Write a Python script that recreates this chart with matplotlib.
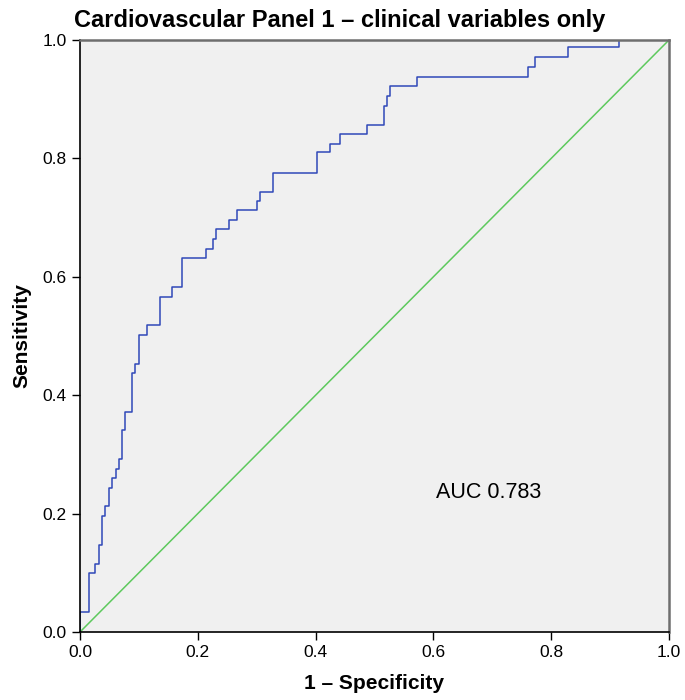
import matplotlib
matplotlib.use("Agg")
import matplotlib.pyplot as plt

# ROC curve corner points (1 - specificity, sensitivity)
fpr = [0.0, 0.0, 0.015, 0.025, 0.033, 0.038, 0.043, 0.050, 0.055, 0.061,
       0.067, 0.072, 0.077, 0.089, 0.094, 0.100, 0.113, 0.135, 0.157, 0.174,
       0.214, 0.225, 0.231, 0.253, 0.266, 0.300, 0.306, 0.328, 0.402, 0.424,
       0.441, 0.488, 0.516, 0.521, 0.526, 0.573, 0.761, 0.772, 0.829, 0.915,
       1.0]
tpr = [0.0, 0.034, 0.099, 0.115, 0.147, 0.196, 0.212, 0.244, 0.260, 0.276,
       0.292, 0.341, 0.372, 0.437, 0.453, 0.502, 0.519, 0.566, 0.583, 0.631,
       0.647, 0.664, 0.680, 0.696, 0.713, 0.728, 0.744, 0.776, 0.810, 0.825,
       0.841, 0.857, 0.889, 0.906, 0.922, 0.938, 0.955, 0.971, 0.988, 1.0,
       1.0]
ref_line = [0.0, 1.0]
ticks = [0.0, 0.2, 0.4, 0.6, 0.8, 1.0]
auc_text = "AUC 0.783"

plt.rcParams["font.family"] = ["Liberation Sans", "DejaVu Sans"]

fig = plt.figure(figsize=(6.85, 7.0), dpi=100)
ax = fig.add_axes([80 / 685, 1 - 632 / 700, 589 / 685, 592 / 700])
ax.set_facecolor("#f0f0f0")

ax.plot(ref_line, ref_line, color="#5dc95d", lw=1.1)
ax.step(fpr, tpr, where="post", color="#3048b8", lw=1.1)

ax.set_xlim(0, 1)
ax.set_ylim(0, 1)
ax.set_xticks(ticks)
ax.set_yticks(ticks)
ax.set_xticklabels([f"{t:.1f}" for t in ticks])
ax.set_yticklabels([f"{t:.1f}" for t in ticks])
ax.tick_params(direction="out", length=6, width=1, labelsize=12.5, colors="black")

for side in ("left", "bottom"):
    ax.spines[side].set_color("black")
    ax.spines[side].set_linewidth(1.2)
for side in ("top", "right"):
    ax.spines[side].set_color("#6e6e6e")
    ax.spines[side].set_linewidth(1.8)

ax.text(0.604, 0.235, auc_text, fontsize=15.5, va="center", ha="left")

fig.text(74 / 685, 1 - 20 / 700, "Cardiovascular Panel 1 – clinical variables only",
         fontsize=17, fontweight="bold", ha="left", va="center")
ax.set_xlabel("1 – Specificity", fontsize=15, fontweight="bold", labelpad=10)
ax.set_ylabel("Sensitivity", fontsize=15, fontweight="bold", labelpad=8)

fig.savefig("out.png", dpi=100)
